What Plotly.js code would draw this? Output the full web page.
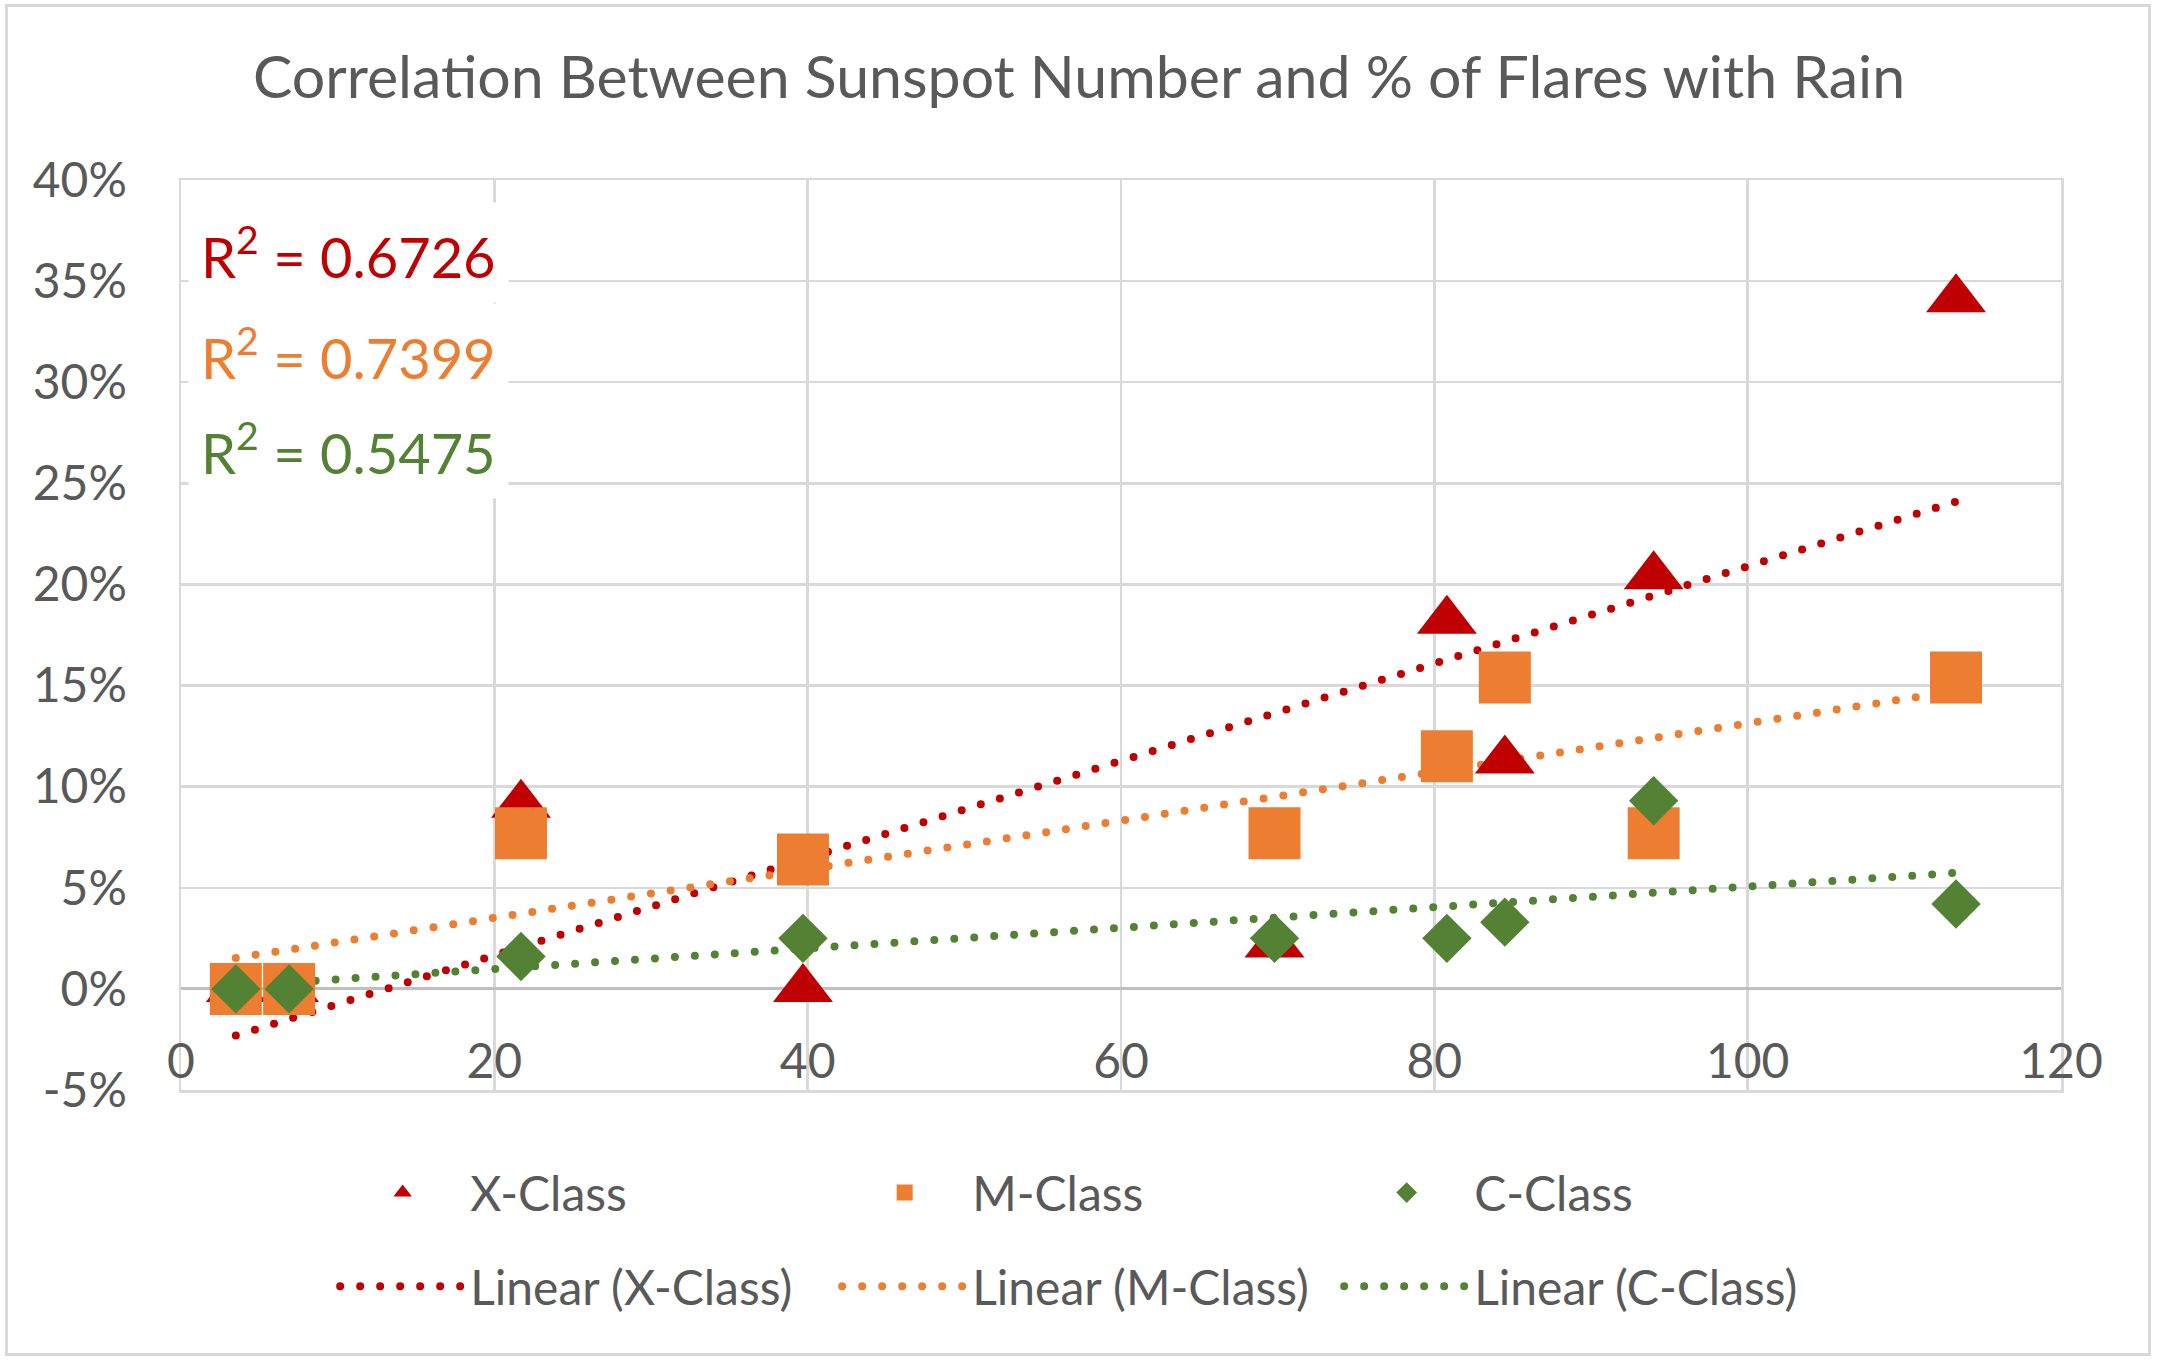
<!DOCTYPE html>
<html>
<head>
<meta charset="utf-8">
<script src="https://cdn.plot.ly/plotly-3.0.1.min.js"></script>
<style>
  body { margin: 0; background: #fff; }
  #chart { width: 2158px; height: 1365px; }
  /* round dots for the trendlines, like excel's round-dot dash */
  #chart .js-line { stroke-linecap: round !important; }
  #frame { position: absolute; left: 5px; top: 4px; width: 2140px; height: 1346px;
           border: 3px solid #d9d9d9; pointer-events: none; }
</style>
</head>
<body>
<div id="chart"></div>
<div id="frame"></div>
<script>
// sunspot number per period
var sunspots = [3.5, 6.9, 21.7, 39.7, 69.8, 80.8, 84.5, 94.0, 113.3];
// share of flares followed by rain
var xClass = [0, 0, 0.091, 0, 0.022, 0.182, 0.113, 0.204, 0.341];
var mClass = [0, 0, 0.077, 0.064, 0.077, 0.115, 0.154, 0.077, 0.154];
var cClass = [0, 0, 0.016, 0.025, 0.025, 0.025, 0.033, 0.093, 0.042];

var seriesNames = ['X-Class', 'M-Class', 'C-Class'];
var seriesColors = ['#C00000', '#ED7D31', '#548235'];
var rSquared = ['0.6726', '0.7399', '0.5475'];

// excel writes a plain hyphen for the negative tick
var yTickVals = [-0.05, 0, 0.05, 0.10, 0.15, 0.20, 0.25, 0.30, 0.35, 0.40];
var yTickText = ['-5%', '0%', '5%', '10%', '15%', '20%', '25%', '30%', '35%', '40%'];

var font = 'Lato, "Open Sans", sans-serif';
var grey = '#595959';

// least squares fit, like excel's linear trendline
function fit(xs, ys) {
  var n = xs.length, mx = 0, my = 0;
  for (var i = 0; i < n; i++) { mx += xs[i]; my += ys[i]; }
  mx /= n; my /= n;
  var sxy = 0, sxx = 0;
  for (var i = 0; i < n; i++) {
    sxy += (xs[i] - mx) * (ys[i] - my);
    sxx += (xs[i] - mx) * (xs[i] - mx);
  }
  var slope = sxy / sxx;
  return { slope: slope, icpt: my - slope * mx };
}

var values = [xClass, mClass, cClass];
var symbols = ['triangle-up', 'square', 'diamond'];
var sizes = [52, 52, 38];

var markerTraces = [], lineTraces = [];
values.forEach(function (ys, k) {
  // markers go on x2 so that axis (the one with labels) gets drawn
  markerTraces.push({
    x: sunspots, y: ys, name: seriesNames[k], type: 'scatter', mode: 'markers',
    xaxis: 'x2', yaxis: 'y',
    marker: { symbol: symbols[k], size: sizes[k], color: seriesColors[k] },
    legend: 'legend'
  });
  var f = fit(sunspots, ys);
  var x0 = Math.min.apply(null, sunspots), x1 = Math.max.apply(null, sunspots);
  lineTraces.push({
    x: [x0, x1], y: [f.icpt + f.slope * x0, f.icpt + f.slope * x1],
    name: 'Linear (' + seriesNames[k] + ')', type: 'scatter', mode: 'lines',
    line: { color: seriesColors[k], width: 8, dash: '0px,20px' },
    legend: 'legend2'
  });
});
var data = lineTraces.concat(markerTraces);

var rsqY = [0.364, 0.314, 0.267];
var annotations = rSquared.map(function (r, k) {
  return {
    x: 0.45, y: rsqY[k], xref: 'x', yref: 'y', xanchor: 'left', yanchor: 'middle',
    text: 'R<sup>2</sup> = ' + r, showarrow: false,
    font: { family: font, size: 56, color: seriesColors[k] },
    bgcolor: '#ffffff', borderpad: 12
  };
});

var legendBase = {
  orientation: 'h', xanchor: 'left', yanchor: 'middle', x: 0.082,
  entrywidth: 362, entrywidthmode: 'pixels', itemwidth: 125,
  font: { family: font, size: 48, color: grey }, bgcolor: 'rgba(0,0,0,0)',
  traceorder: 'normal'
};

var gridStyle = {
  showgrid: true, gridcolor: '#d9d9d9', gridwidth: 2.5,
  showline: true, mirror: true, linecolor: '#d9d9d9', linewidth: 2.5,
  ticks: ''
};

var layout = {
  width: 2158, height: 1365,
  margin: { l: 181, r: 97, t: 180, b: 275 },
  paper_bgcolor: '#ffffff', plot_bgcolor: '#ffffff',
  font: { family: font, color: grey },
  title: {
    text: 'Correlation Between Sunspot Number and % of Flares with Rain',
    font: { family: font, size: 59, color: grey },
    x: 0.5, xref: 'container', xanchor: 'center', y: 0.943, yanchor: 'middle'
  },
  // frame and vertical grid
  xaxis: Object.assign({}, gridStyle, {
    range: [0, 120], dtick: 20, tick0: 0, zeroline: false, showticklabels: false
  }),
  // tick labels hang under the 0% line, as in excel
  xaxis2: {
    overlaying: 'x', anchor: 'free', position: 0.05 / 0.45, side: 'bottom',
    range: [0, 120], dtick: 20, tick0: 0,
    showgrid: false, showline: false, zeroline: false, ticks: '',
    ticklabelstandoff: 40,
    tickfont: { family: font, size: 48, color: grey }
  },
  yaxis: Object.assign({}, gridStyle, {
    range: [-0.05, 0.40], tickmode: 'array', tickvals: yTickVals, ticktext: yTickText,
    zeroline: true, zerolinecolor: '#bfbfbf', zerolinewidth: 3,
    ticklabelstandoff: 42,
    tickfont: { family: font, size: 48, color: grey }
  }),
  showlegend: true,
  legend: Object.assign({}, legendBase, { y: -0.113 }),
  legend2: Object.assign({}, legendBase, { y: -0.216 }),
  annotations: annotations
};

Plotly.newPlot('chart', data, layout, { staticPlot: true, displayModeBar: false });
</script>
</body>
</html>
